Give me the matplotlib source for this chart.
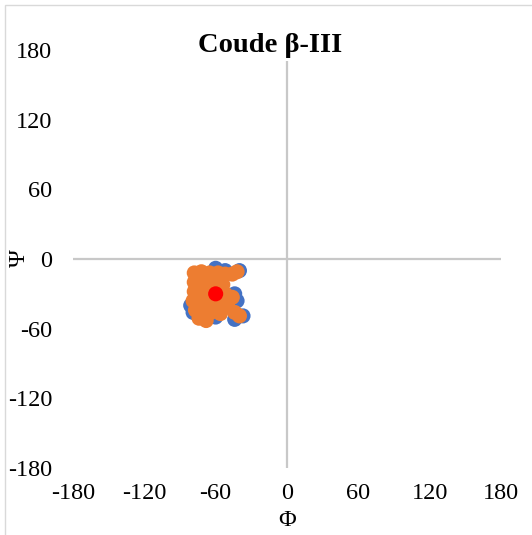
import matplotlib
matplotlib.use("Agg")
import matplotlib.pyplot as plt
from matplotlib.patches import Rectangle

# Data (phi, psi)
blue_phi = [-40, -60, -44, -42, -81, -79, -44, -37, -60, -70, -65, -52, -75]
blue_psi = [-10, -8, -30, -36, -40, -46, -52, -49, -50, -30, -20, -10, -48]

orange_phi = [-78, -72, -65, -58, -52, -46, -42,
              -78, -72, -64, -56, -54,
              -78, -72, -66, -58, -52, -46,
              -79, -73, -66, -58, -50,
              -77, -71, -64, -56, -44, -40,
              -74, -68]
orange_psi = [-12, -11, -12, -12, -13, -13, -11,
              -20, -20, -19, -20, -22,
              -28, -28, -27, -29, -30, -33,
              -36, -36, -36, -38, -40,
              -44, -45, -46, -47, -46, -49,
              -51, -53]

mean_phi = [-60]
mean_psi = [-30]

ticks = [-180, -120, -60, 0, 60, 120, 180]
title = "Coude β-III"

W, H = 532, 535
fig = plt.figure(figsize=(W / 100, H / 100), dpi=100)
fig.patch.set_facecolor("white")

# Chart-area border
fig.add_artist(Rectangle((5 / W, -0.1), 1.2, (H - 5) / H + 0.1,
                         transform=fig.transFigure, fill=False,
                         edgecolor="#D9D9D9", linewidth=1.0))

ax = fig.add_axes([73 / W, (H - 468) / H, 428 / W, 418 / H])
ax.set_xlim(-180, 180)
ax.set_ylim(-180, 180)
for s in ax.spines.values():
    s.set_visible(False)

ax.axhline(0, color="#C8C8C8", linewidth=1.6, zorder=1)
ax.axvline(0, color="#C8C8C8", linewidth=1.6, zorder=1)

ms = 118
ax.scatter(blue_phi, blue_psi, s=ms, color="#4472C4", edgecolors="none", zorder=3)
ax.scatter(orange_phi, orange_psi, s=ms, color="#ED7D31", edgecolors="none", zorder=4)
ax.scatter(mean_phi, mean_psi, s=ms, color="#FF0000", edgecolors="none", zorder=5)

font = "Liberation Serif"
fs = 17.5
ax.set_xticks(ticks)
ax.set_yticks(ticks)
ax.set_xticklabels([str(t) for t in ticks], fontsize=fs, family=font)
ax.set_yticklabels([str(t) for t in ticks], fontsize=fs, family=font)
ax.tick_params(axis="both", length=0)
ax.tick_params(axis="x", pad=11)
ax.tick_params(axis="y", pad=15)

fig.text(287 / W, 1 - 520 / H, "Φ", ha="center", va="center", fontsize=fs, family=font)
fig.text(19 / W, 1 - 258 / H, "Ψ", ha="center", va="center", fontsize=fs,
         family=font, rotation=90)

fig.text(270 / W, 1 - 46 / H, title, ha="center", va="center", fontsize=20.5,
         family=font, fontweight="bold",
         bbox=dict(facecolor="white", edgecolor="none", pad=2), zorder=10)

fig.savefig("out.png", dpi=100, facecolor="white")
